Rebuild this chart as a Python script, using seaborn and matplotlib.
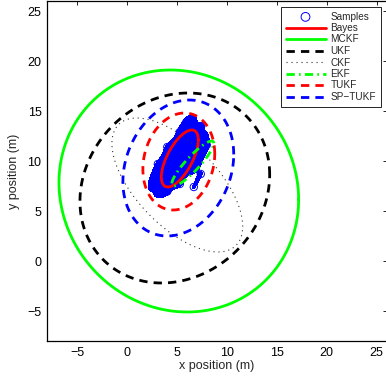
import numpy as np
import pandas as pd
import seaborn as sns
import matplotlib.pyplot as plt
from matplotlib.colors import ListedColormap

# Monte Carlo samples
sample_x = [7.8, 7.45, 6.55, 5.3, 4.05, 3.1, 2.8, 3.15, 4.05, 5.3, 6.6, 7.5,
            7.05, 6.8, 6.2, 5.3, 4.4, 3.8, 3.55, 3.8, 4.45, 5.3, 6.2, 6.8,
            6.3, 6.15, 5.8, 5.3, 4.8, 4.45, 4.3, 4.45, 4.8, 5.3, 5.8, 6.15, 5.3,
            6.3, 5.9, 2.6, 2.8, 8.0, 7.4, 6.7, 3.5, 7.2]
sample_y = [12.5, 13.5, 13.65, 12.9, 11.4, 9.7, 8.1, 7.1, 6.95, 7.7, 9.15, 10.9,
            11.85, 12.55, 12.65, 12.1, 11.1, 9.85, 8.75, 8.05, 7.95, 8.5, 9.5, 10.75,
            11.2, 11.6, 11.65, 11.35, 10.75, 10.05, 9.4, 9.0, 8.95, 9.25, 9.85, 10.55, 10.3,
            14.0, 13.8, 7.6, 8.6, 11.6, 8.7, 7.4, 7.0, 10.0]

# Estimated error ellipses: centre, half extents, correlation
names = ['Bayes', 'MCKF', 'UKF', 'CKF', 'EKF', 'TUKF', 'SP\u2212TUKF']
center_x = [5.3, 5.2, 4.8, 5.05, 6.6, 5.2, 5.15]
center_y = [10.25, 7.0, 7.3, 7.6, 9.75, 9.95, 9.3]
half_x = [1.85, 12.0, 9.5, 6.55, 2.1, 3.6, 5.55]
half_y = [2.85, 12.1, 9.5, 6.7, 2.25, 4.85, 6.8]
corr = [0.65, -0.07, 0.14, -0.62, 0.9, 0.16, 0.2]

colors = ['red', '#00ff00', 'black', '#333333', '#00ff00', 'red', 'blue']
styles = ['-', '-', (0, (3, 2.2)), (0, (1, 3.5)), (0, (3, 1.5, 0.6, 1.5)),
          (0, (3, 2.2)), (0, (3, 2.2))]
widths = [2, 2, 2, 0.8, 2, 2, 2]

samples = pd.DataFrame({'x': sample_x, 'y': sample_y})

sns.set_style('white')
plt.rcParams['font.family'] = ['Liberation Sans', 'DejaVu Sans']

fig = plt.figure(figsize=(3.86, 3.82), dpi=100)
ax = fig.add_axes([47 / 386, 41 / 382, 339.5 / 386, 340 / 382])

# samples: dense core + hollow markers
sns.kdeplot(data=samples, x='x', y='y', fill=True, levels=[0.14, 1.0],
            cmap=ListedColormap(['blue']), bw_adjust=0.6, ax=ax)
sns.scatterplot(data=samples, x='x', y='y', marker='o', s=28,
                linewidth=0.7, label='Samples', ax=ax, zorder=3)
pts = ax.collections[-1]
pts.set_facecolor('none')
pts.set_edgecolor('blue')

t = np.linspace(0, 2 * np.pi, 300)
for i, name in enumerate(names):
    ex = center_x[i] + half_x[i] * np.cos(t)
    ey = center_y[i] + half_y[i] * (corr[i] * np.cos(t) + np.sqrt(1 - corr[i] ** 2) * np.sin(t))
    sns.lineplot(x=ex, y=ey, sort=False, estimator=None, color=colors[i],
                 linestyle=styles[i], linewidth=widths[i], label=name, ax=ax, zorder=4)

ax.set_xlim(-8, 26)
ax.set_ylim(-8, 26)
ax.set_xticks([-5, 0, 5, 10, 15, 20, 25])
ax.set_yticks([-5, 0, 5, 10, 15, 20, 25])
ax.tick_params(direction='in', length=3, width=0.6, top=True, right=True,
               labelsize=9, pad=4, colors='black')
for s in ax.spines.values():
    s.set_color('black')
    s.set_linewidth(0.9)
ax.set_xlabel('x position (m)', fontsize=9, labelpad=1)
ax.set_ylabel('y position (m)', fontsize=9, labelpad=5)

handles, labels = ax.get_legend_handles_labels()
order = ['Samples'] + names
hmap = dict(zip(labels, handles))
leg = ax.legend([hmap[k] for k in order], order, loc='upper right', fontsize=7.2,
                frameon=True, fancybox=False, framealpha=1, edgecolor='black',
                handlelength=4.0, handletextpad=0.5, labelspacing=0.15,
                borderpad=0.45, borderaxespad=0.6)
leg.get_frame().set_linewidth(0.6)
leg.legend_handles[0].set_facecolor('none')
leg.legend_handles[0].set_edgecolor('blue')
leg.legend_handles[0].set_sizes([40])

fig.savefig('out.png', dpi=100)
